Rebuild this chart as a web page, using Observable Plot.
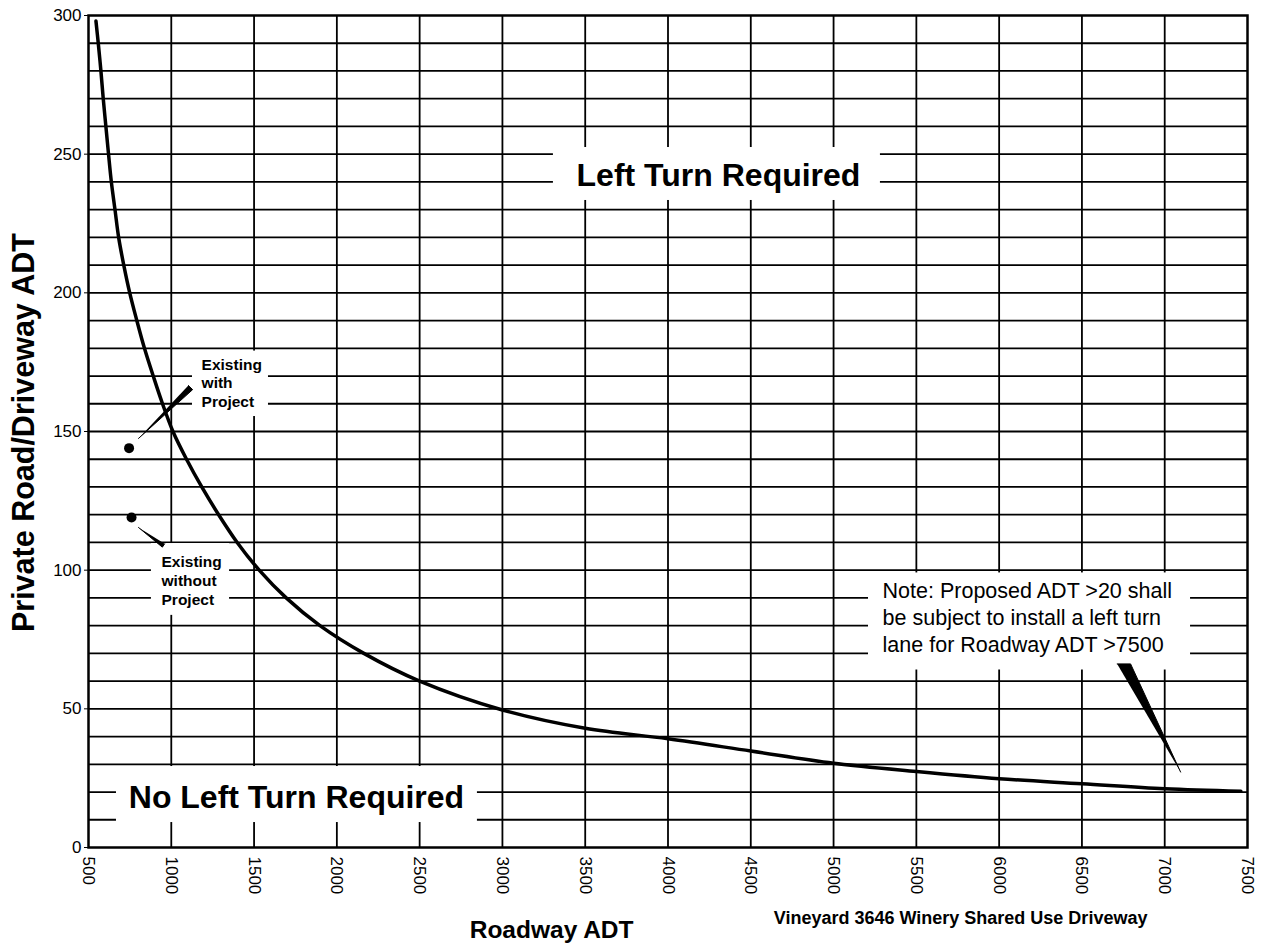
<!DOCTYPE html>
<html><head><meta charset="utf-8">
<script src="https://cdn.jsdelivr.net/npm/d3@7"></script>
<script src="https://cdn.jsdelivr.net/npm/@observablehq/plot@0.6"></script>
<style>
body{margin:0;background:#fff}
svg{font-family:"Liberation Sans",Arial,sans-serif}
</style>
</head><body><div id="chart"></div>
<script>
// Threshold curve (Roadway ADT vs Private Road/Driveway ADT)
const roadwayADT = [545, 559, 575, 589, 605, 621, 638, 660, 682, 713, 749, 792, 838, 891, 947, 1010, 1092, 1184, 1286, 1398, 1531, 1694, 1898, 2163, 2500, 3000, 3500, 4000, 4500, 5000, 5500, 6000, 6500, 7000, 7460];
const privateADT = [298, 290, 280, 270, 260, 250, 240, 230, 220, 210, 200, 190, 180, 170, 160, 150, 140, 130, 120, 110, 100, 90, 80, 70, 60, 49.6, 43, 39.2, 34.8, 30.4, 27.4, 24.8, 23, 21.2, 20.3];

// Existing conditions points
const pointNames = ["Existing with Project", "Existing without Project"];
const pointX = [745, 760];
const pointY = [144, 119];

// Tick labels
const xTicks = [500, 1000, 1500, 2000, 2500, 3000, 3500, 4000, 4500, 5000, 5500, 6000, 6500, 7000, 7500];
const yTicks = [0, 50, 100, 150, 200, 250, 300];
const xGrid = [1000, 1500, 2000, 2500, 3000, 3500, 4000, 4500, 5000, 5500, 6000, 6500, 7000];
const yGrid = [10, 20, 30, 40, 50, 60, 70, 80, 90, 100, 110, 120, 130, 140, 150, 160, 170, 180, 190, 200, 210, 220, 230, 240, 250, 260, 270, 280, 290];

// Annotation texts and their anchors (data units)
const regionLabels = ["Left Turn Required", "No Left Turn Required"];
const regionX = [4305, 1756];
const regionY = [242.3, 18];
const pointLabels = ["Existing\nwith\nProject", "Existing\nwithout\nProject"];
const pointLabelX = [1183, 941];
const pointLabelY = [167.7, 96.6];
const noteText = "Note: Proposed ADT >20 shall\nbe subject to install a left turn\nlane for Roadway ADT >7500";
const noteX = 5296, noteY = 83.4;

// White label backgrounds (data units)
const boxX1 = [3308, 669, 1128, 880, 5211];
const boxX2 = [5283, 2849, 1587, 1352, 7156];
const boxY1 = [233.3, 9.0, 155.4, 83.7, 64];
const boxY2 = [252.4, 29.2, 179, 109.6, 99];

// Callout pointers (closed triangles, data units)
const wedgeId = [1, 1, 1, 2, 2, 2, 3, 3, 3];
const wedgeX = [802, 1129, 1103, 802, 946, 960, 6713, 6794, 7096];
const wedgeY = [147.5, 165.1, 166.6, 115.4, 108.3, 109.5, 66.2, 66.2, 27.2];

const curve = roadwayADT.map((x, i) => ({x, y: privateADT[i]}));
const points = pointNames.map((name, i) => ({name, x: pointX[i], y: pointY[i]}));
const boxes = boxX1.map((x1, i) => ({x1, x2: boxX2[i], y1: boxY1[i], y2: boxY2[i]}));
const wedges = wedgeId.map((id, i) => ({id, x: wedgeX[i], y: wedgeY[i]}));
const regions = regionLabels.map((t, i) => ({t, x: regionX[i], y: regionY[i]}));
const plabels = pointLabels.map((t, i) => ({t, x: pointLabelX[i], y: pointLabelY[i]}));

const chart = Plot.plot({
  width: 1271,
  height: 949,
  marginLeft: 88,
  marginRight: 24,
  marginTop: 15,
  marginBottom: 102,
  x: {domain: [500, 7500]},
  y: {domain: [0, 300]},
  style: {fontFamily: "Liberation Sans, Arial, sans-serif", color: "black", background: "white"},
  marks: [
    Plot.gridY(yGrid, {stroke: "black", strokeOpacity: 1, strokeWidth: 1.8}),
    Plot.gridX(xGrid, {stroke: "black", strokeOpacity: 1, strokeWidth: 1.8}),
    Plot.rect(boxes, {x1: "x1", x2: "x2", y1: "y1", y2: "y2", fill: "white"}),
    Plot.frame({stroke: "black", strokeWidth: 2.5}),
    Plot.axisY(yTicks, {tickSize: 4, tickPadding: 3, fontSize: 17, tickFormat: "d", label: null}),
    Plot.axisX(xTicks, {tickSize: 0, tickPadding: 9, tickRotate: 90, fontSize: 17, tickFormat: "d", label: null}),
    Plot.line(curve, {x: "x", y: "y", stroke: "black", strokeWidth: 3.5, curve: "catmull-rom"}),
    Plot.line(wedges, {x: "x", y: "y", z: "id", fill: "black", stroke: "black", strokeWidth: 1}),
    Plot.dot(points, {x: "x", y: "y", r: 5, fill: "black", stroke: null}),
    Plot.text(regions, {x: "x", y: "y", text: "t", fontSize: 32, fontWeight: "bold", fill: "black"}),
    Plot.text(plabels, {x: "x", y: "y", text: "t", fontSize: 15.5, fontWeight: "bold", textAnchor: "start", lineHeight: 1.22, fill: "black"}),
    Plot.text([noteText], {x: noteX, y: noteY, text: d => d, fontSize: 21.5, textAnchor: "start", lineHeight: 1.25, fill: "black"}),
    Plot.text(["Private Road/Driveway ADT"], {y: 149.6, frameAnchor: "left", textAnchor: "middle", dx: -64, rotate: -90, text: d => d, fontSize: 30.5, fontWeight: "bold", fill: "black"}),
    Plot.text(["Roadway ADT"], {x: 3297, frameAnchor: "bottom", dy: 90, text: d => d, fontSize: 24.5, fontWeight: "bold", fill: "black"}),
    Plot.text(["Vineyard 3646 Winery Shared Use Driveway"], {x: 5767, frameAnchor: "bottom", dy: 76, text: d => d, fontSize: 18, fontWeight: "bold", fill: "black"})
  ]
});
document.getElementById("chart").append(chart);
</script>
</body></html>
